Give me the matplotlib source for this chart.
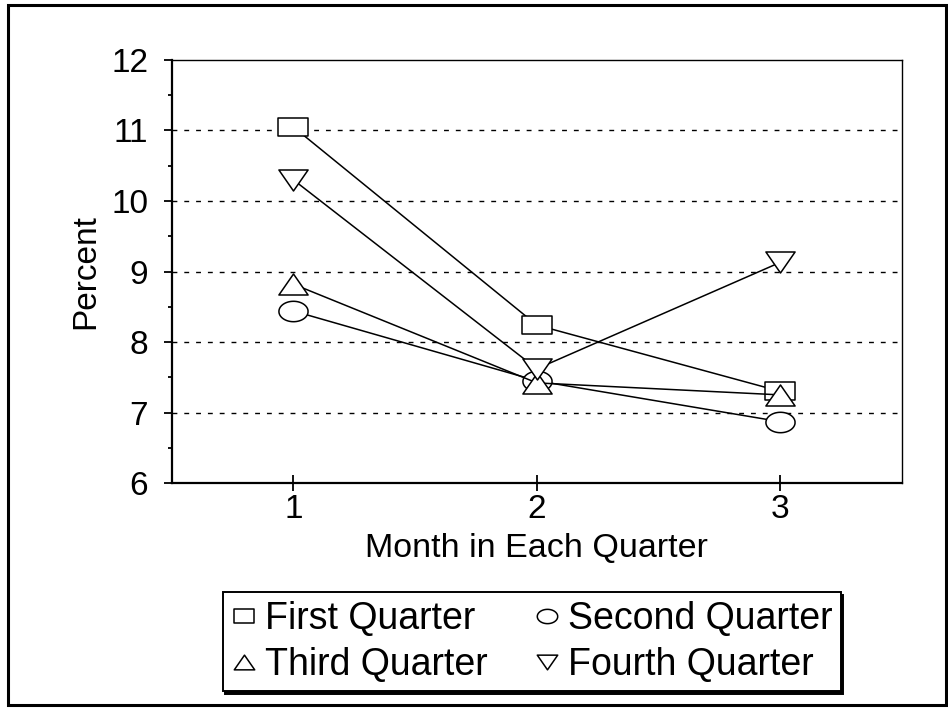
import numpy as np
import matplotlib
matplotlib.use("Agg")
import matplotlib.pyplot as plt
from matplotlib.path import Path
from matplotlib.patches import Rectangle
from matplotlib.ticker import MultipleLocator

plt.rcParams['font.family'] = ['Liberation Sans', 'DejaVu Sans']

months = [1, 2, 3]
first_q = [11.05, 8.24, 7.30]
second_q = [8.44, 7.45, 6.87]
third_q = [8.82, 7.42, 7.25]
fourth_q = [10.30, 7.62, 9.13]
labels = ["First Quarter", "Second Quarter", "Third Quarter", "Fourth Quarter"]


# markers are a bit wider than tall
def box(hh):
    return Path([(-1, -hh), (1, -hh), (1, hh), (-1, hh), (-1, -hh)],
                [1, 2, 2, 2, 79])


def ellipse(hh):
    t = np.linspace(0, 2 * np.pi, 60)
    return Path(np.column_stack([np.cos(t), hh * np.sin(t)]))


def tri(hh, up=True):
    s = 1 if up else -1
    return Path([(0, s * hh), (-1, -s * hh), (1, -s * hh), (0, s * hh)],
                [1, 2, 2, 79])


markers = [box(0.65), ellipse(0.7), tri(0.72), tri(0.72, up=False)]
series = [first_q, second_q, third_q, fourth_q]

fig = plt.figure(figsize=(9.48, 7.1), dpi=100)
ax = fig.add_axes([0.1811, 0.3197, 0.7704, 0.5958])

handles = []
for vals, mk, lab in zip(series, markers, labels):
    h, = ax.plot(months, vals, color='black', lw=1.1, marker=mk, ms=21,
                 mfc='white', mec='black', mew=1.1, label=lab)
    handles.append(h)

ax.set_xlim(0.5, 3.5)
ax.set_ylim(6, 12)
ax.set_xticks(months)
ax.yaxis.set_major_locator(MultipleLocator(1))
ax.yaxis.set_minor_locator(MultipleLocator(0.5))
for y in range(7, 12):
    ax.axhline(y, color='black', lw=1.0, ls=(0, (3.5, 5)), zorder=0)

ax.tick_params(axis='y', which='major', direction='out', length=6, width=1.3,
               labelsize=24, pad=11)
ax.tick_params(axis='y', which='minor', direction='out', length=3, width=1.3)
ax.tick_params(axis='x', direction='inout', length=12, width=1.3,
               labelsize=24, pad=2)

for side in ['left', 'bottom']:
    ax.spines[side].set_linewidth(1.6)
for side in ['top', 'right']:
    ax.spines[side].set_linewidth(1.0)

ax.set_xlabel("Month in Each Quarter", fontsize=24.5, labelpad=6)
ax.set_ylabel("Percent", fontsize=24, labelpad=7)

order = [0, 2, 1, 3]
leg = fig.legend([handles[i] for i in order], [labels[i] for i in order],
                 ncol=2, loc='center', bbox_to_anchor=(0.5607, 0.0958),
                 fontsize=27, frameon=True, fancybox=False, markerscale=0.7,
                 handlelength=0.7, handletextpad=0.2, columnspacing=1.25,
                 labelspacing=0.28, borderpad=0.22, borderaxespad=0,
                 shadow={'color': 'black', 'alpha': 1})
for lh in leg.legend_handles:
    lh.set_linestyle('none')
leg.get_frame().set_edgecolor('black')
leg.get_frame().set_linewidth(1.4)

# outer frame around the whole chart
fig.patches.append(Rectangle((8 / 948, 5 / 710), 938 / 948, 700 / 710,
                             transform=fig.transFigure, fill=False,
                             edgecolor='black', lw=2.2))

fig.savefig("out.png", dpi=100)
